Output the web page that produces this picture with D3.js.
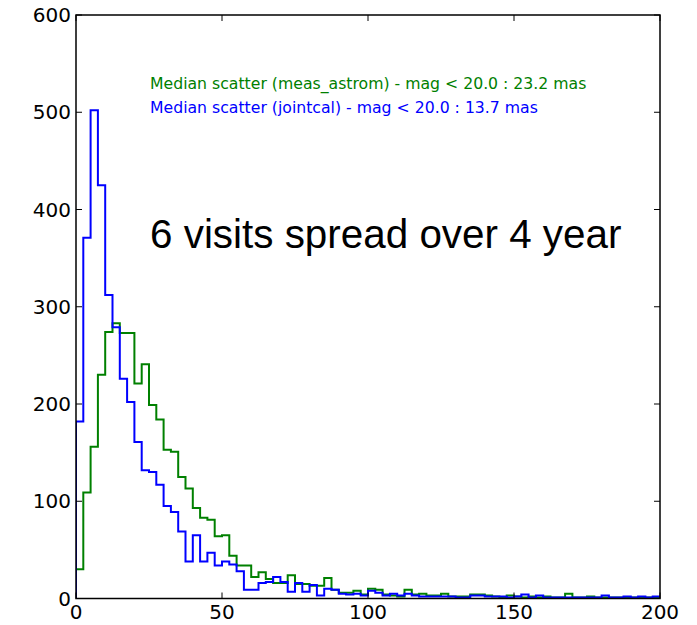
<!DOCTYPE html>
<html>
<head>
<meta charset="utf-8">
<script src="https://cdn.jsdelivr.net/npm/d3@7"></script>
<style>
  html, body { margin: 0; padding: 0; background: #fff; }
  svg { display: block; }
  text { font-family: "DejaVu Sans", sans-serif; }
</style>
</head>
<body>
<svg id="chart" width="697" height="625"></svg>
<script>
// bin width 2.5 mas, 80 bins from 0 to 200
const binWidth = 2.5;
const measAstrom = [30, 109, 156, 230, 274, 283, 273, 273, 221, 241, 199, 184, 153, 151, 125, 113, 93, 83, 81, 64,
  65, 44, 34, 34, 22, 27, 20, 16, 16, 24, 15, 15, 13, 13, 21, 9, 6, 6, 8, 4,
  10, 9, 4, 3, 2, 9, 4, 5, 3, 3, 5, 2, 2, 2, 4, 4, 3, 2, 1, 3,
  2, 1, 2, 1, 2, 1, 1, 5, 1, 1, 2, 1, 1, 1, 1, 1, 1, 1, 1, 1];
const jointcal = [182, 371, 502, 425, 312, 279, 226, 202, 161, 132, 130, 117, 95, 89, 69, 38, 65, 38, 47, 34,
  38, 35, 28, 9, 9, 16, 17, 22, 17, 7, 16, 7, 14, 3, 10, 9, 5, 4, 5, 3,
  8, 6, 3, 5, 3, 5, 3, 2, 2, 2, 2, 2, 1, 1, 3, 3, 2, 2, 2, 1,
  2, 4, 1, 3, 1, 1, 1, 1, 1, 1, 1, 1, 3, 1, 1, 2, 1, 2, 1, 2];
const xTicks = [0, 50, 100, 150, 200];
const yTicks = [0, 100, 200, 300, 400, 500, 600];
const annotations = [
  "Median scatter (meas_astrom) - mag < 20.0 : 23.2 mas",
  "Median scatter (jointcal) - mag < 20.0 : 13.7 mas"
];
const titleText = "6 visits spread over 4 year";

const svg = d3.select("#chart");
const mLeft = 76, mRight = 660, mTop = 15, mBottom = 598.5;
const x = d3.scaleLinear().domain([0, 200]).range([mLeft, mRight]);
const y = d3.scaleLinear().domain([0, 600]).range([mBottom, mTop]);

svg.append("defs").append("clipPath").attr("id", "clip")
  .append("rect").attr("x", mLeft).attr("y", mTop).attr("width", mRight - mLeft).attr("height", mBottom - mTop);

function stepPoints(vals) {
  const pts = [[0, 0]];
  vals.forEach((v, i) => {
    pts.push([i * binWidth, v]);
    pts.push([(i + 1) * binWidth, v]);
  });
  pts.push([vals.length * binWidth, 0]);
  return pts;
}
const line = d3.line().x(d => x(d[0])).y(d => y(d[1]));

const g = svg.append("g").attr("clip-path", "url(#clip)");
g.append("path").attr("d", line(stepPoints(measAstrom)))
  .attr("fill", "none").attr("stroke", "#008000").attr("stroke-width", 2).attr("stroke-linejoin", "miter");
g.append("path").attr("d", line(stepPoints(jointcal)))
  .attr("fill", "none").attr("stroke", "#0000ff").attr("stroke-width", 2).attr("stroke-linejoin", "miter");

// ticks inward on all sides
const tickLen = 6;
const tg = svg.append("g").attr("stroke", "#000").attr("stroke-width", 1);
xTicks.forEach(t => {
  tg.append("line").attr("x1", x(t)).attr("x2", x(t)).attr("y1", mBottom).attr("y2", mBottom - tickLen);
  tg.append("line").attr("x1", x(t)).attr("x2", x(t)).attr("y1", mTop).attr("y2", mTop + tickLen);
});
yTicks.forEach(t => {
  tg.append("line").attr("x1", mLeft).attr("x2", mLeft + tickLen).attr("y1", y(t)).attr("y2", y(t));
  tg.append("line").attr("x1", mRight).attr("x2", mRight - tickLen).attr("y1", y(t)).attr("y2", y(t));
});

// frame
svg.append("rect").attr("x", mLeft).attr("y", mTop).attr("width", mRight - mLeft).attr("height", mBottom - mTop)
  .attr("fill", "none").attr("stroke", "#000").attr("stroke-width", 1.5);

// tick labels
svg.append("g").selectAll("text").data(yTicks).join("text")
  .attr("x", mLeft - 5).attr("y", d => y(d)).attr("dy", "0.36em")
  .attr("text-anchor", "end").attr("font-size", 20).attr("fill", "#000")
  .text(d => d);
svg.append("g").selectAll("text").data(xTicks).join("text")
  .attr("x", d => x(d)).attr("y", mBottom + 5).attr("dy", "0.76em")
  .attr("text-anchor", "middle").attr("font-size", 20).attr("fill", "#000")
  .text(d => d);

// annotations
svg.append("text").attr("x", 150).attr("y", 89).attr("font-size", 15.7).attr("fill", "#008000").text(annotations[0]);
svg.append("text").attr("x", 150).attr("y", 113).attr("font-size", 15.7).attr("fill", "#0000ff").text(annotations[1]);
svg.append("text").attr("x", 150).attr("y", 248).attr("font-size", 40.4)
  .style("font-family", "'Liberation Sans', Arial, sans-serif").attr("fill", "#000").text(titleText);
</script>
</body>
</html>
